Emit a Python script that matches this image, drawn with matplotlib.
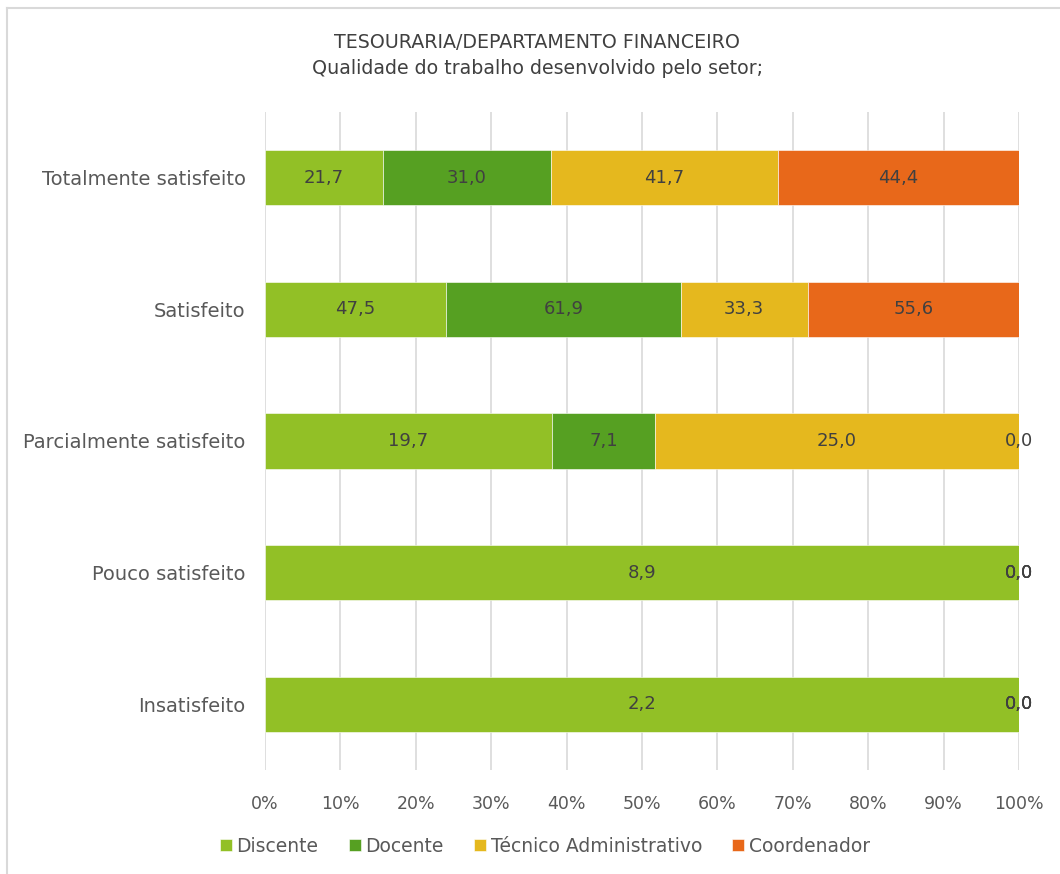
import matplotlib
matplotlib.use("Agg")
import matplotlib.pyplot as plt
from matplotlib.lines import Line2D
import numpy as np

plt.rcParams['font.family'] = ['DejaVu Sans']

categories = ["Totalmente satisfeito", "Satisfeito", "Parcialmente satisfeito",
              "Pouco satisfeito", "Insatisfeito"]
series_names = ["Discente", "Docente", "Técnico Administrativo", "Coordenador"]
discente = [21.7, 47.5, 19.7, 8.9, 2.2]
docente = [31.0, 61.9, 7.1, 0.0, 0.0]
tecnico = [41.7, 33.3, 25.0, 0.0, 0.0]
coordenador = [44.4, 55.6, 0.0, 0.0, 0.0]
xtick_labels = ["0%", "10%", "20%", "30%", "40%", "50%", "60%", "70%", "80%", "90%", "100%"]

colors = ["#92C026", "#56A022", "#E5B81E", "#E8681A"]

data = np.array([discente, docente, tecnico, coordenador])
totals = data.sum(axis=0)
shares = data / totals

fig = plt.figure(figsize=(10.6, 8.74), dpi=100)
ax = fig.add_axes([0.25, 0.119, 0.7113, 0.7529])

y = np.arange(len(categories))
left = np.zeros(len(categories))
for i, name in enumerate(series_names):
    ax.barh(y, shares[i], left=left, height=0.42, color=colors[i],
            edgecolor='white', linewidth=0.4, label=name, zorder=2)
    for j in range(len(categories)):
        cx = left[j] + shares[i][j] / 2
        ax.text(cx, y[j], f"{data[i][j]:.1f}".replace('.', ','),
                ha='center', va='center', fontsize=13, color='#404040', zorder=3)
    left = left + shares[i]

ax.set_xlim(0, 1)
ax.set_ylim(len(categories) - 0.5, -0.5)
ax.set_xticks(np.linspace(0, 1, 11))
ax.set_xticklabels(xtick_labels)
ax.set_yticks(y)
ax.set_yticklabels(categories, fontsize=14)
ax.tick_params(axis='both', length=0, labelcolor='#595959')
ax.tick_params(axis='x', pad=18, labelsize=12.5)
ax.tick_params(axis='y', pad=14)
ax.grid(axis='x', color='#D9D9D9', linewidth=1.2, zorder=0)
ax.set_axisbelow(True)
for s in ax.spines.values():
    s.set_visible(False)

fig.text(0.507, 0.951, "TESOURARIA/DEPARTAMENTO FINANCEIRO", ha='center', va='center',
         fontsize=13.7, color='#404040')
fig.text(0.507, 0.922, "Qualidade do trabalho desenvolvido pelo setor;", ha='center', va='center',
         fontsize=13.7, color='#404040')

leg = fig.legend(loc='center', bbox_to_anchor=(0.514, 1 - 846 / 874), ncol=4, frameon=False,
                 handlelength=0.65, handleheight=0.65, handletextpad=0.25, columnspacing=1.6,
                 fontsize=13.5)
for t in leg.get_texts():
    t.set_color('#595959')

# chart border (top and left visible)
fig.add_artist(Line2D([7 / 1060, 7 / 1060], [0, 1 - 8 / 874], transform=fig.transFigure,
                      color='#D9D9D9', linewidth=1.5))
fig.add_artist(Line2D([7 / 1060, 1], [1 - 8 / 874, 1 - 8 / 874], transform=fig.transFigure,
                      color='#D9D9D9', linewidth=1.5))

fig.savefig("out.png", dpi=100, facecolor='white')
